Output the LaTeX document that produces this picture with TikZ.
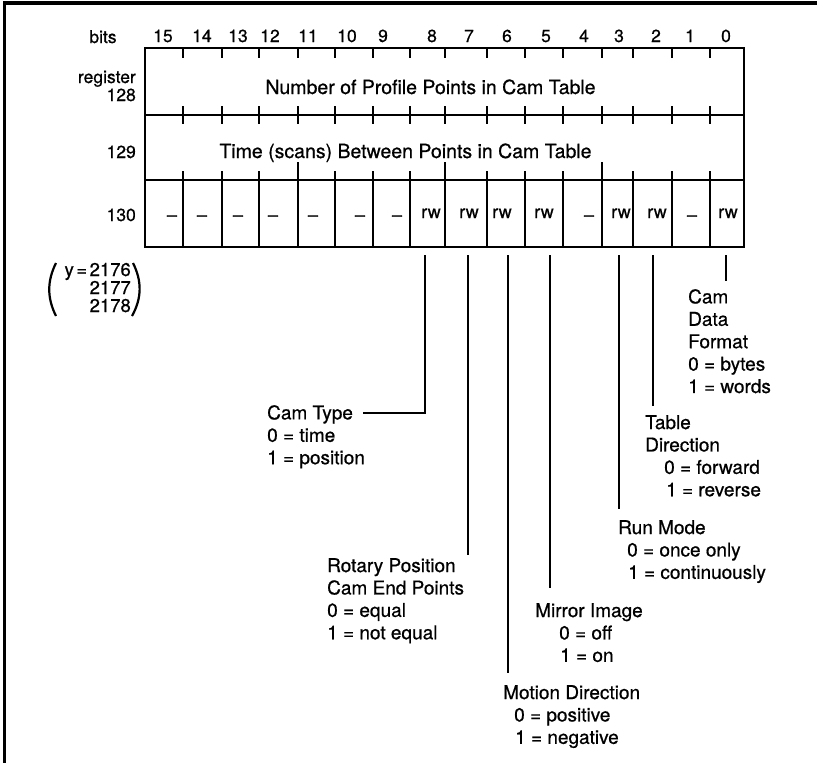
\documentclass[tikz,border=0pt]{standalone}
\usepackage{fontspec}
\setmainfont{TeX Gyre Heros}[FakeBold=0.7]
\begin{document}
\begin{tikzpicture}[x=1pt,y=-1pt,
  gridline/.style={line width=2.6pt},
  leader/.style={line width=2.6pt},
  hdr/.style={font=\fontsize{17.5}{18}\selectfont, inner sep=0pt, anchor=base},
  cell/.style={font=\fontsize{18}{20}\selectfont, inner sep=0pt, anchor=base},
  lbl/.style={font=\fontsize{19}{22.4}\selectfont, inner sep=0pt, anchor=north west, align=left},
  rowtxt/.style={font=\fontsize{19.5}{22}\selectfont, inner sep=0pt, anchor=base}]
\useasboundingbox (0,0) rectangle (817,763);

% frame (top and left only)
\draw[line width=3.5pt] (4.5,763) -- (4.5,3) -- (817,3);

% header
\node[hdr] (bits) at (103,43) {bits};
\foreach \x/\b in {163/15,202/14,238/13,270/12,308/11,347/10,383/9,432/8,469/7,507/6,546/5,584/4,619/3,656/2,690/1,726/0}
  \node[hdr] (bit\b) at (\x,42) {\b};

% register labels
\node[hdr, anchor=base east] (reglbl) at (136,83) {register};
\node[hdr, anchor=base east] (r128) at (136,101) {128};
\node[hdr, anchor=base east] (r129) at (136,158) {129};
\node[hdr, anchor=base east] (r130) at (136,221) {130};

% grid
\draw[gridline] (145,48) rectangle (744,247);
\draw[gridline] (145,115) -- (744,115);
\draw[gridline] (145,180) -- (744,180);
\foreach \x in {183,222,259,298,335,373,410,445,487,525,563,602,633,672,710} {
  \draw[gridline] (\x,48) -- (\x,58);
  \draw[gridline] (\x,106) -- (\x,124);
  \draw[gridline] (\x,171) -- (\x,247);
}
\foreach \x in {298,445,602} \draw[gridline] (\x,162) -- (\x,180);

% row texts
\node[rowtxt] (t128) at (430.5,94) {Number of Profile Points in Cam Table};
\node[rowtxt] (t129) at (405.5,158) {Time (scans) Between Points in Cam Table};

% cells of register 130
\foreach \x/\n in {172/15,202/14,238/13,273/12,313/11,360/10,397/9,589/4,692/1}
  \node[cell] (c\n) at (\x,221) {–};
\foreach \x/\n in {431/8,469/7,502/6,544/5,621/3,657/2,728/0}
  \node[cell] (c\n) at (\x,218) {rw};

% y = 2176 ... bracket
\node[font=\fontsize{18.5}{18}\selectfont, inner sep=0pt, anchor=base east] (y1) at (131,276) {y\kern2.5pt=\kern2.5pt2176};
\node[font=\fontsize{18.5}{18}\selectfont, inner sep=0pt, anchor=base east] (y2) at (131,294) {2177};
\node[font=\fontsize{18.5}{18}\selectfont, inner sep=0pt, anchor=base east] (y3) at (131,312) {2178};
\draw[line width=2.2pt] (56,263) .. controls (47,281) and (47,298) .. (56,316);
\draw[line width=2.2pt] (133,263) .. controls (142,281) and (142,298) .. (132,316);

% leader coordinates
\coordinate (l8a) at (425,255); \coordinate (l8b) at (425,413); \coordinate (l8c) at (363,413);
\coordinate (l7a) at (468,255); \coordinate (l7b) at (468,555);
\coordinate (l6a) at (508,255); \coordinate (l6b) at (508,673);
\coordinate (l5a) at (550,255); \coordinate (l5b) at (550,588);
\coordinate (l3a) at (619,255); \coordinate (l3b) at (619,509);
\coordinate (l2a) at (653,255); \coordinate (l2b) at (653,406);
\coordinate (l0a) at (726,255); \coordinate (l0b) at (726,281);

\draw[leader] (l8a) -- (l8b) -- (l8c);
\draw[leader] (l7a) -- (l7b);
\draw[leader] (l6a) -- (l6b);
\draw[leader] (l5a) -- (l5b);
\draw[leader] (l3a) -- (l3b);
\draw[leader] (l2a) -- (l2b);
\draw[leader] (l0a) -- (l0b);

% labels
\node[lbl] (camtype) at (267,405) {Cam Type\\0 = time\\1 = position};
\node[lbl] (rotary) at (327,558) {Rotary Position\\Cam End Points\\0 = equal\\1 = not equal};
\node[lbl] (motion) at (503,685) {Motion Direction\\\hspace*{11pt}0 = positive\\\hspace*{12pt}1 = negative};
\node[lbl] (mirror) at (535,603) {Mirror Image\\\hspace*{24pt}0 = off\\\hspace*{25pt}1 = on};
\node[lbl] (runmode) at (618,520) {Run Mode\\\hspace*{9pt}0 = once only\\\hspace*{10pt}1 = continuously};
\node[lbl] (tabledir) at (645,415) {Table\\Direction\\\hspace*{19pt}0 = forward\\\hspace*{21pt}1 = reverse};
\node[lbl] (camdata) at (688,289) {Cam\\Data\\Format\\0 = bytes\\1 = words};
\end{tikzpicture}
\end{document}
